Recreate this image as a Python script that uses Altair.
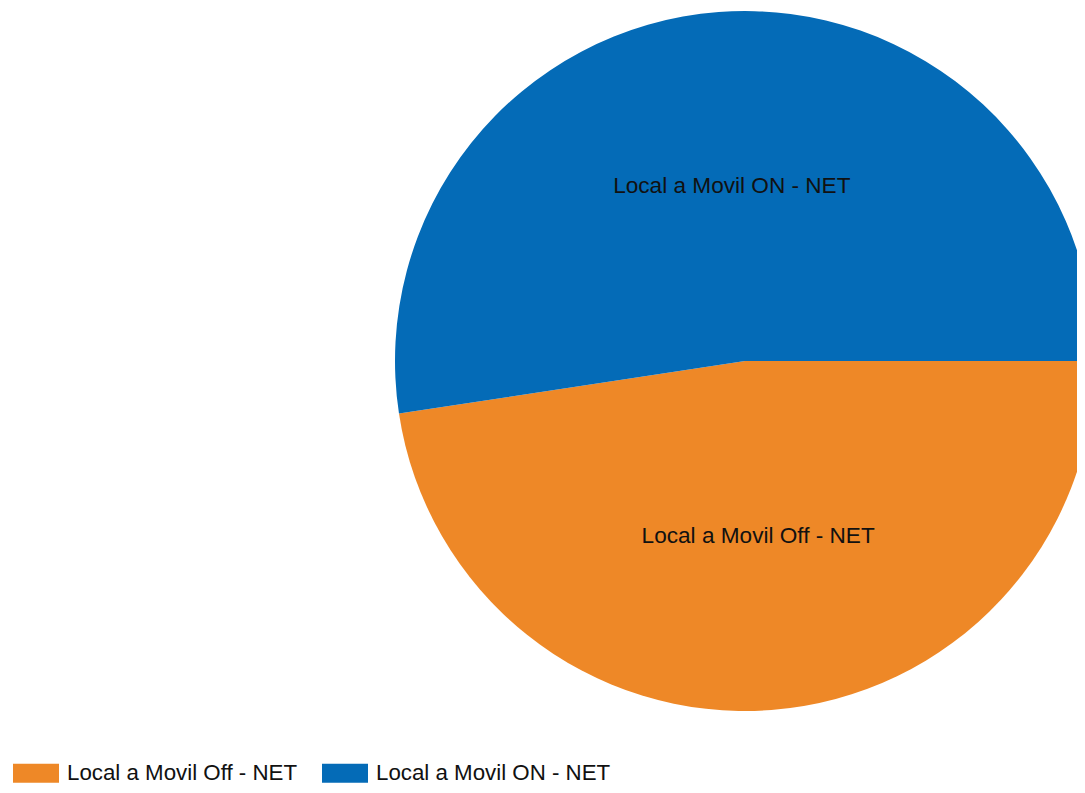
import math
import altair as alt
import pandas as pd

categories = ["Local a Movil Off - NET", "Local a Movil ON - NET"]
values = [47.6, 52.4]
order = [0, 1]
colors = ["#EE8827", "#046BB7"]

df = pd.DataFrame({"category": categories, "value": values, "order": order})

theta_scale = alt.Scale(range=[math.pi / 2, math.pi / 2 + 2 * math.pi])
color_scale = alt.Scale(domain=categories, range=colors)

base = alt.Chart(df).encode(
    theta=alt.Theta("value:Q", stack=True, scale=theta_scale),
    order=alt.Order("order:Q"),
)

rect_path = "M-1,-0.413L1,-0.413L1,0.413L-1,0.413Z"

arcs = base.mark_arc(stroke=None).encode(
    x=alt.value(737),
    y=alt.value(353),
    radius=alt.value(350),
    color=alt.Color(
        "category:N",
        scale=color_scale,
        sort=categories,
        legend=alt.Legend(
            title=None,
            orient="none",
            legendX=5,
            legendY=742,
            direction="horizontal",
            symbolType=rect_path,
            symbolSize=2116,
            symbolStrokeWidth=0,
            symbolOpacity=1,
            labelFont="Liberation Sans",
            labelFontSize=22.3,
            labelColor="#111111",
            labelOffset=8,
            columnPadding=24,
            padding=0,
            labelLimit=400,
        ),
    ),
)

labels = base.mark_text(
    font="Liberation Sans", fontSize=22.6, color="#111111"
).encode(
    x=alt.value(737),
    y=alt.value(353),
    radius=alt.value(175),
    text="category:N",
)

chart = (
    alt.layer(arcs, labels)
    .properties(width=1069, height=777, padding=0, autosize="none")
    .configure_view(stroke=None)
)

chart.save("out.html", embed_options={"renderer": "svg", "actions": False})
